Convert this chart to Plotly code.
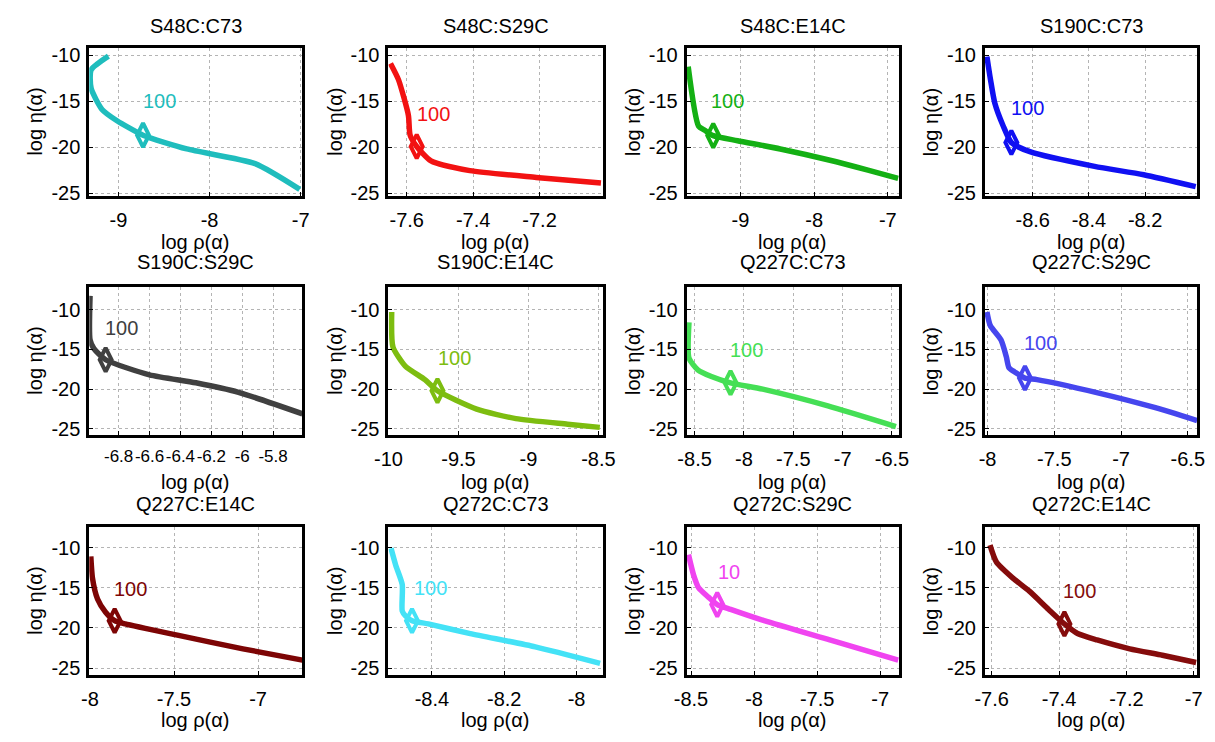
import plotly.graph_objects as go

# ---------------- data ----------------
titles = ["S48C:C73", "S48C:S29C", "S48C:E14C", "S190C:C73",
          "S190C:S29C", "S190C:E14C", "Q227C:C73", "Q227C:S29C",
          "Q227C:E14C", "Q272C:C73", "Q272C:S29C", "Q272C:E14C"]

rho_S48C_C73 = [-9.11, -9.30, -9.30, -9.18, -9.02, -8.73, -8.25, -7.5, -7.01]
eta_S48C_C73 = [-10.1, -11.6, -13.6, -15.9, -17.1, -18.7, -20.2, -21.8, -24.6]

rho_S48C_S29C = [-7.649, -7.625, -7.595, -7.590, -7.57, -7.527, -7.41, -7.21, -7.015]
eta_S48C_S29C = [-10.9, -12.66, -16.55, -18.68, -19.93, -21.5, -22.56, -23.3, -23.9]

rho_S48C_E14C = [-9.71, -9.57, -9.48, -9.37, -9.04, -8.46, -7.80, -7.27, -6.86]
eta_S48C_E14C = [-11.25, -17.7, -18.2, -18.75, -19.3, -20.2, -21.4, -22.5, -23.4]

rho_S190C_C73 = [-8.763, -8.75, -8.735, -8.705, -8.676, -8.61, -8.38, -8.205, -8.02]
eta_S190C_C73 = [-10.15, -12.7, -15.2, -17.7, -19.5, -20.5, -22.1, -23.0, -24.3]

rho_S190C_S29C = [-6.985, -6.985, -6.96, -6.884, -6.60, -6.30, -6.024, -5.61]
eta_S190C_S29C = [-8.27, -13.8, -14.9, -16.3, -18.2, -19.2, -20.4, -23.1]

rho_S190C_E14C = [-9.977, -9.968, -9.88, -9.74, -9.65, -9.37, -9.09, -8.72, -8.49]
eta_S190C_E14C = [-10.3, -14.7, -17.1, -18.8, -20.2, -22.5, -23.7, -24.4, -24.8]

rho_Q227C_C73 = [-8.557, -8.557, -8.465, -8.33, -8.136, -7.81, -7.15, -6.46]
eta_Q227C_C73 = [-11.6, -16.1, -17.6, -18.4, -19.2, -20.0, -22.1, -24.7]

rho_Q227C_S29C = [-8.005, -7.98, -7.90, -7.86, -7.84, -7.80, -7.72, -7.63, -7.19, -6.75, -6.43]
eta_Q227C_S29C = [-10.3, -12.0, -13.8, -15.9, -17.3, -17.8, -18.6, -18.8, -20.4, -22.3, -23.95]

rho_Q227C_E14C = [-7.995, -7.985, -7.955, -7.907, -7.853, -7.79, -7.48, -7.09, -6.736]
eta_Q227C_E14C = [-11.1, -13.8, -16.4, -18.05, -19.1, -19.5, -20.9, -22.6, -24.0]

rho_Q272C_C73 = [-8.513, -8.50, -8.482, -8.482, -8.473, -8.455, -8.41, -8.294, -8.114, -7.935]
eta_Q272C_C73 = [-10.1, -12.2, -14.6, -17.9, -18.5, -19.1, -19.5, -20.7, -22.35, -24.4]

rho_Q272C_S29C = [-8.52, -8.48, -8.44, -8.36, -8.292, -8.186, -7.92, -7.40, -6.857]
eta_Q272C_S29C = [-10.9, -13.4, -15.0, -16.2, -17.1, -17.7, -19.1, -21.5, -24.0]

rho_Q272C_E14C = [-7.605, -7.586, -7.537, -7.489, -7.431, -7.384, -7.345, -7.287, -7.19, -7.093, -6.993]
eta_Q272C_E14C = [-9.7, -11.8, -13.8, -15.4, -17.7, -19.5, -20.7, -21.5, -22.6, -23.4, -24.3]

rho_series = [rho_S48C_C73, rho_S48C_S29C, rho_S48C_E14C, rho_S190C_C73,
              rho_S190C_S29C, rho_S190C_E14C, rho_Q227C_C73, rho_Q227C_S29C,
              rho_Q227C_E14C, rho_Q272C_C73, rho_Q272C_S29C, rho_Q272C_E14C]
eta_series = [eta_S48C_C73, eta_S48C_S29C, eta_S48C_E14C, eta_S190C_C73,
              eta_S190C_S29C, eta_S190C_E14C, eta_Q227C_C73, eta_Q227C_S29C,
              eta_Q227C_E14C, eta_Q272C_C73, eta_Q272C_S29C, eta_Q272C_E14C]

# selected corner point (diamond marker)
corner_rho = [-8.73, -7.57, -9.37, -8.676, -6.884, -9.65, -8.136, -7.72, -7.853, -8.455, -8.292, -7.384]
corner_eta = [-18.7, -19.93, -18.75, -19.5, -16.3, -20.2, -19.2, -18.6, -19.1, -19.1, -17.1, -19.5]

# corner label (alpha value) and its position
corner_text = ["100", "100", "100", "100", "100", "100", "100", "100", "100", "100", "10", "100"]
label_rho = [-8.55, -7.52, -9.17, -8.617, -6.78, -9.53, -7.97, -7.60, -7.756, -8.405, -8.196, -7.338]
label_eta = [-15.0, -16.4, -15.0, -15.8, -12.3, -16.1, -15.1, -14.25, -15.2, -15.0, -13.0, -15.4]

# axis limits and ticks
x_ranges = [[-9.32, -6.98], [-7.655, -7.01], [-9.73, -6.85], [-8.77, -8.015],
            [-6.99, -5.61], [-10.0, -8.47], [-8.58, -6.43], [-8.02, -6.43],
            [-8.004, -6.736], [-8.52, -7.928], [-8.534, -6.852], [-7.62, -6.99]]
y_ranges = [[-25.3, -9.25]] * 4 + [[-25.75, -7.2]] * 4 + [[-25.85, -7.5]] * 4
x_ticks = [[-9, -8, -7], [-7.6, -7.4, -7.2], [-9, -8, -7], [-8.6, -8.4, -8.2],
           [-6.8, -6.6, -6.4, -6.2, -6, -5.8], [-10, -9.5, -9, -8.5],
           [-8.5, -8, -7.5, -7, -6.5], [-8, -7.5, -7, -6.5],
           [-8, -7.5, -7], [-8.4, -8.2, -8], [-8.5, -8, -7.5, -7], [-7.6, -7.4, -7.2, -7]]
y_ticks = [-25, -20, -15, -10]

colors = ["#1fbdbd", "#f21212", "#14b014", "#1010f2",
          "#404040", "#7dbd10", "#45df55", "#4646ee",
          "#7d0505", "#44e2f6", "#f044f0", "#850c0c"]

# ---------------- layout geometry (pixels) ----------------
W, H = 1215, 742
col_px = [(77, 295), (383, 602), (688, 905), (993, 1210)]
row_px = [(45, 195), (288, 438), (532, 682)]
ytitle_x = [22, 328, 633, 938]
title_y = [22, 262, 508]
xtitle_y = [242, 486, 728]

FONT = "Liberation Sans, Arial, sans-serif"
FS = 20
fig = go.Figure()
annotations = []
layout = {}

for i in range(12):
    r, c = divmod(i, 4)
    n = "" if i == 0 else str(i + 1)
    xa, ya = "x" + n, "y" + n
    x0, x1 = col_px[c]
    y0, y1 = row_px[r]
    fig.add_trace(go.Scatter(x=rho_series[i], y=eta_series[i], mode="lines",
                             line=dict(color=colors[i], width=5.5, shape="spline", smoothing=0.6),
                             xaxis=xa, yaxis=ya, showlegend=False, hoverinfo="skip"))
    fig.add_trace(go.Scatter(x=[corner_rho[i]], y=[corner_eta[i]], mode="markers",
                             marker=dict(symbol="diamond-tall-open", size=17, color=colors[i],
                                         line=dict(color=colors[i], width=4)),
                             xaxis=xa, yaxis=ya, showlegend=False, hoverinfo="skip"))
    annotations.append(dict(x=label_rho[i], y=label_eta[i], xref=xa, yref=ya,
                            text=corner_text[i], showarrow=False,
                            font=dict(family=FONT, size=FS, color=colors[i])))
    common = dict(showgrid=True, gridcolor="#b4b4b4", griddash="dot", gridwidth=1,
                  zeroline=False, showline=True, mirror=True, linecolor="black",
                  linewidth=3, ticks="inside", ticklen=4, tickcolor="black", tickangle=0)
    xfs = 17 if len(x_ticks[i]) > 5 else FS
    layout["xaxis" + n] = dict(domain=[x0 / W, x1 / W], anchor=ya, range=x_ranges[i],
                               tickvals=x_ticks[i], ticktext=[f"{v:g}" for v in x_ticks[i]],
                               ticklabelstandoff=4,
                               tickfont=dict(family=FONT, size=xfs, color="black"), **common)
    layout["yaxis" + n] = dict(domain=[1 - y1 / H, 1 - y0 / H], anchor=xa, range=y_ranges[i],
                               tickvals=y_ticks, ticktext=[f"{v:g}" for v in y_ticks],
                               ticklabelstandoff=2,
                               tickfont=dict(family=FONT, size=FS, color="black"), **common)
    # subplot title
    annotations.append(dict(x=(x0 + x1) / 2 / W, y=1 - title_y[r] / H, xref="paper", yref="paper",
                            text=titles[i], showarrow=False, xanchor="center", yanchor="middle",
                            font=dict(family=FONT, size=FS, color="black")))
    # axis titles
    annotations.append(dict(x=(x0 + x1) / 2 / W, y=1 - xtitle_y[r] / H, xref="paper", yref="paper",
                            text="log ρ(α)", showarrow=False, xanchor="center", yanchor="middle",
                            font=dict(family=FONT, size=FS, color="black")))
    annotations.append(dict(x=ytitle_x[c] / W, y=1 - (y0 + y1) / 2 / H, xref="paper", yref="paper",
                            text="log η(α)", showarrow=False, textangle=-90,
                            xanchor="center", yanchor="middle",
                            font=dict(family=FONT, size=FS, color="black")))

fig.update_layout(width=W, height=H, margin=dict(l=0, r=0, t=0, b=0),
                  paper_bgcolor="white", plot_bgcolor="white",
                  annotations=annotations, **layout)
fig.write_html("out.html")
